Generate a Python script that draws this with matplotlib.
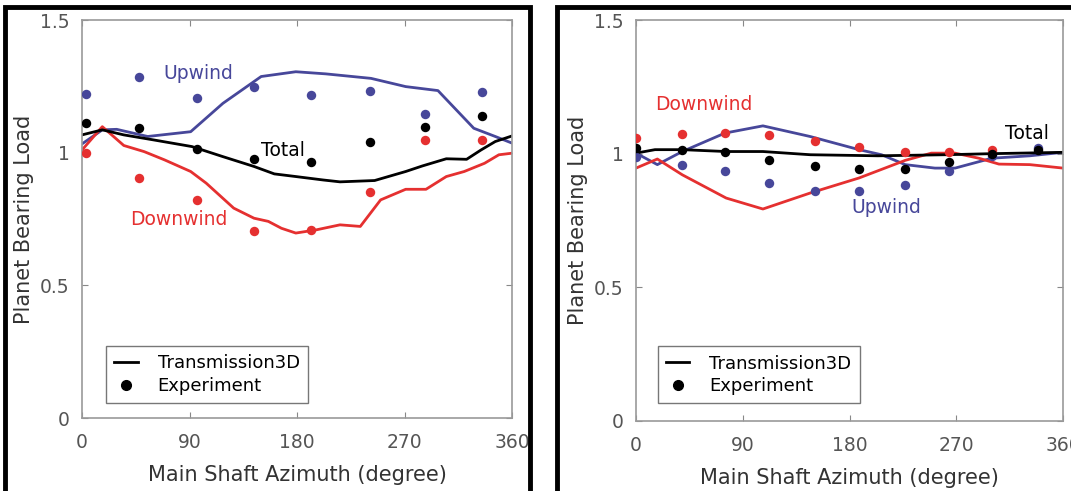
import matplotlib
matplotlib.use('Agg')
import numpy as np
import matplotlib.pyplot as plt
from matplotlib.lines import Line2D
from matplotlib.patches import Rectangle

# ---- left panel: Transmission3D curves ----
L_up_x = [0, 17, 29, 55, 91, 118, 150, 179, 204, 242, 271, 298, 328, 346, 360]
L_up_y = [1.033, 1.086, 1.088, 1.061, 1.079, 1.186, 1.287, 1.305, 1.297, 1.280, 1.249, 1.234, 1.092, 1.061, 1.036]
L_tot_x = [0, 17, 35, 60, 92, 118, 144, 161, 179, 202, 216, 245, 271, 285, 305, 322, 334, 346, 360]
L_tot_y = [1.067, 1.086, 1.067, 1.048, 1.023, 0.985, 0.948, 0.920, 0.910, 0.897, 0.890, 0.895, 0.929, 0.950, 0.977, 0.975, 1.010, 1.042, 1.063]
L_dn_x = [0, 17, 35, 52, 69, 91, 104, 127, 144, 156, 167, 179, 196, 216, 233, 250, 271, 288, 305, 320, 337, 349, 360]
L_dn_y = [1.010, 1.098, 1.027, 1.004, 0.973, 0.929, 0.885, 0.791, 0.753, 0.741, 0.715, 0.697, 0.709, 0.728, 0.722, 0.822, 0.862, 0.862, 0.910, 0.929, 0.960, 0.992, 0.998]

# ---- left panel: experiment ----
L_exp_x = [3, 48, 96, 144, 192, 241, 287, 335]
L_exp_up = [1.220, 1.284, 1.205, 1.249, 1.216, 1.233, 1.145, 1.229]
L_exp_tot = [1.110, 1.094, 1.014, 0.977, 0.963, 1.042, 1.098, 1.138]
L_exp_dn = [0.999, 0.904, 0.822, 0.703, 0.709, 0.852, 1.048, 1.048]

# ---- right panel: Transmission3D curves ----
R_up_x = [0, 18, 39, 75, 107, 147, 188, 207, 227, 252, 269, 300, 332, 360]
R_up_y = [1.002, 0.959, 1.008, 1.077, 1.104, 1.064, 1.015, 0.996, 0.959, 0.946, 0.946, 0.983, 0.992, 1.005]
R_tot_x = [0, 16, 39, 76, 107, 147, 204, 261, 300, 360]
R_tot_y = [1.002, 1.015, 1.015, 1.008, 1.008, 0.996, 0.992, 0.996, 1.000, 1.005]
R_dn_x = [0, 18, 39, 76, 107, 147, 188, 227, 249, 269, 289, 306, 332, 360]
R_dn_y = [0.946, 0.980, 0.921, 0.834, 0.793, 0.853, 0.909, 0.975, 1.002, 1.002, 0.983, 0.961, 0.959, 0.946]

# ---- right panel: experiment ----
R_exp_x = [0, 39, 75, 112, 151, 188, 227, 264, 300, 339]
R_exp_up = [0.987, 0.956, 0.935, 0.890, 0.859, 0.859, 0.881, 0.934, 0.990, 1.020]
R_exp_tot = [1.023, 1.015, 1.006, 0.977, 0.955, 0.942, 0.942, 0.969, 1.000, 1.015]
R_exp_dn = [1.058, 1.073, 1.077, 1.071, 1.049, 1.025, 1.005, 1.005, 1.012, np.nan]

BLUE = '#47479a'
RED = '#e53030'
GRAY = '#555555'

W, H = 1071, 491
fig = plt.figure(figsize=(W / 100, H / 100), dpi=100)

def panel(rect, curves, exp_x, exps, labels, leg_anchor):
    ax = fig.add_axes(rect)
    for (x, y, c) in curves:
        ax.plot(x, y, color=c, lw=2, zorder=2)
    for (y, c) in exps:
        ax.plot(exp_x, y, 'o', color=c, ms=6.8, mec='none', zorder=3)
    for (t, x, y, c, ha) in labels:
        ax.text(x, y, t, color=c, fontsize=13.5, ha=ha, va='center')
    ax.set_xlim(0, 360)
    ax.set_ylim(0, 1.5)
    ax.set_xticks([0, 90, 180, 270, 360])
    ax.set_xticklabels(['0', '90', '180', '270', '360'])
    ax.set_yticks([0, 0.5, 1, 1.5])
    ax.set_yticklabels(['0', '0.5', '1', '1.5'])
    ax.tick_params(direction='in', top=True, right=True, length=4, width=0.8,
                   color='#888888', labelcolor=GRAY, labelsize=13.5)
    ax.tick_params(axis='x', pad=11)
    ax.tick_params(axis='y', pad=9)
    for s in ax.spines.values():
        s.set_color('#9a9a9a')
        s.set_linewidth(1.2)
    ax.set_xlabel('Main Shaft Azimuth (degree)', fontsize=15, color='#333333', labelpad=9)
    ax.set_ylabel('Planet Bearing Load', fontsize=15, color='#333333', labelpad=4)
    handles = [Line2D([], [], color='black', lw=2),
               Line2D([], [], ls='none', marker='o', color='black', ms=7)]
    leg = ax.legend(handles, ['Transmission3D', 'Experiment'], loc='lower left',
                    bbox_to_anchor=leg_anchor, fontsize=13, fancybox=False,
                    framealpha=1, edgecolor='#777777', handlelength=1.3,
                    borderpad=0.45, labelspacing=0.25, handletextpad=1.1)
    leg.get_frame().set_linewidth(1.0)
    return ax

panel([82 / W, 1 - 418 / H, 430 / W, 398 / H],
      [(L_up_x, L_up_y, BLUE), (L_dn_x, L_dn_y, RED), (L_tot_x, L_tot_y, 'black')],
      L_exp_x, [(L_exp_up, BLUE), (L_exp_dn, RED), (L_exp_tot, 'black')],
      [('Upwind', 97, 1.30, BLUE, 'center'), ('Total', 150, 1.01, 'black', 'left'),
       ('Downwind', 81, 0.747, RED, 'center')],
      (0.035, 0.015))

panel([636 / W, 1 - 421 / H, 427 / W, 401 / H],
      [(R_up_x, R_up_y, BLUE), (R_dn_x, R_dn_y, RED), (R_tot_x, R_tot_y, 'black')],
      R_exp_x, [(R_exp_up, BLUE), (R_exp_dn, RED), (R_exp_tot, 'black')],
      [('Downwind', 57, 1.183, RED, 'center'), ('Upwind', 211, 0.797, BLUE, 'center'),
       ('Total', 330, 1.077, 'black', 'center')],
      (0.03, 0.022))

# black panel frames (they clip the "360" label like the original)
fig.patches.append(Rectangle((5 / W, -0.05), 525 / W, 1.05 - 7.5 / H, transform=fig.transFigure,
                             fill=False, ec='black', lw=3.5, zorder=10))
fig.patches.append(Rectangle((531 / W, -0.05), 24 / W, 1.2, transform=fig.transFigure,
                             fill=True, fc='white', ec='none', zorder=9))
fig.patches.append(Rectangle((557 / W, -0.05), 0.6, 1.05 - 7.5 / H, transform=fig.transFigure,
                             fill=False, ec='black', lw=3.5, zorder=10))

fig.savefig('out.png', dpi=100)
